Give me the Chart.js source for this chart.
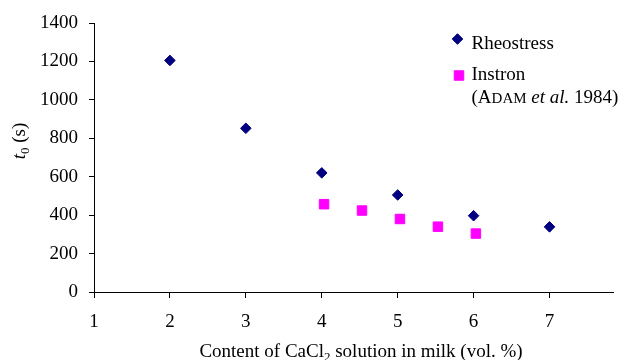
<!DOCTYPE html>
<html><head><meta charset="utf-8">
<script src="https://cdn.jsdelivr.net/npm/chart.js@4/dist/chart.umd.min.js"></script>
<style>html,body{margin:0;padding:0;background:#fff}#wrap{width:621px;height:360px}</style>
</head><body><div id="wrap"><canvas id="c" width="621" height="360"></canvas></div>
<script>
const rheoX = [2, 3, 4, 5, 6, 7];
const rheoY = [1205, 852, 620, 505, 397, 339];
const instronX = [4.03, 4.53, 5.03, 5.53, 6.03];
const instronY = [457, 424, 380, 340, 304];
const xTicks = [1, 2, 3, 4, 5, 6, 7];
const yTicks = [0, 200, 400, 600, 800, 1000, 1200, 1400];
const seriesNames = ['Rheostress', 'Instron'];

const FAM = '"Liberation Serif", "Times New Roman", serif';
const F = (s, st) => (st ? st + ' ' : '') + s + 'px ' + FAM;

function drawRuns(ctx, runs, x, y, align) {
  let w = 0;
  runs.forEach(r => { ctx.font = r.font; w += ctx.measureText(r.text).width; });
  let cx = align === 'center' ? x - w / 2 : x;
  ctx.textAlign = 'left';
  ctx.textBaseline = 'alphabetic';
  runs.forEach(r => {
    ctx.font = r.font;
    ctx.fillText(r.text, cx, y + (r.dy || 0));
    cx += ctx.measureText(r.text).width;
  });
}

const decor = {
  id: 'decor',
  afterDraw(chart) {
    const ctx = chart.ctx;
    ctx.save();
    ctx.fillStyle = '#000';
    // x title
    drawRuns(ctx, [
      { text: 'Content of CaCl', font: F(19) },
      { text: '2', font: F(13), dy: 4 },
      { text: ' solution in milk (vol. %)', font: F(19) }
    ], 361, 357, 'center');
    // y title
    ctx.save();
    ctx.translate(25, 141);
    ctx.rotate(-Math.PI / 2);
    drawRuns(ctx, [
      { text: 't', font: F(19, 'italic') },
      { text: '0', font: F(13), dy: 4 },
      { text: ' (s)', font: F(19) }
    ], 0, 0, 'center');
    ctx.restore();
    // legend
    const ds = chart.data.datasets;
    const mk = [[457.5, 39], [459, 75.5]];
    ds.forEach((d, i) => {
      ctx.fillStyle = d.backgroundColor;
      ctx.strokeStyle = d.borderColor;
      ctx.lineWidth = d.borderWidth;
      Chart.helpers.drawPoint(ctx, { pointStyle: d.pointStyle, radius: d.pointRadius, borderWidth: d.borderWidth }, mk[i][0], mk[i][1]);
    });
    ctx.fillStyle = '#000';
    drawRuns(ctx, [{ text: ds[0].label, font: F(19) }], 471.5, 48.5, 'left');
    drawRuns(ctx, [{ text: ds[1].label, font: F(19) }], 471.5, 79.5, 'left');
    drawRuns(ctx, [
      { text: '(A', font: F(19) },
      { text: 'DAM', font: F(15) },
      { text: ' ', font: F(19) },
      { text: 'et al.', font: F(19, 'italic') },
      { text: ' 1984)', font: F(19) }
    ], 471.5, 103.3, 'left');
    ctx.restore();
  }
};

const tickFont = { family: FAM, size: 19 };

new Chart(document.getElementById('c'), {
  type: 'scatter',
  data: {
    datasets: [
      {
        label: seriesNames[0],
        data: rheoX.map((x, i) => ({ x, y: rheoY[i] })),
        pointStyle: 'rectRot', pointRadius: 5.3, borderWidth: 1,
        backgroundColor: '#000080', borderColor: '#000080'
      },
      {
        label: seriesNames[1],
        data: instronX.map((x, i) => ({ x, y: instronY[i] })),
        pointStyle: 'rect', pointRadius: 6.7, borderWidth: 1,
        backgroundColor: '#FF00FF', borderColor: '#FF00FF'
      }
    ]
  },
  options: {
    responsive: false, animation: false, devicePixelRatio: 1,
    layout: { padding: { top: 23, right: 7, bottom: 0, left: 0 } },
    plugins: { legend: { display: false }, tooltip: { enabled: false } },
    scales: {
      x: {
        type: 'linear', min: 1, max: 7.84,
        afterBuildTicks: s => { s.ticks = xTicks.map(v => ({ value: v })); },
        afterFit: s => { s.height = 68; },
        grid: { display: true, drawOnChartArea: false, drawTicks: true, tickLength: 6, color: '#000' },
        border: { display: true, color: '#000', width: 1 },
        ticks: { font: tickFont, color: '#000', padding: 13, maxRotation: 0, callback: v => String(v) }
      },
      y: {
        type: 'linear', min: 0, max: 1400,
        afterBuildTicks: s => { s.ticks = yTicks.map(v => ({ value: v })); },
        afterFit: s => { s.width = 94; },
        grid: { display: true, drawOnChartArea: false, drawTicks: true, tickLength: 5, color: '#000' },
        border: { display: true, color: '#000', width: 1 },
        ticks: { font: tickFont, color: '#000', padding: 11, callback: v => String(v) }
      }
    }
  },
  plugins: [decor]
});
</script></body></html>
